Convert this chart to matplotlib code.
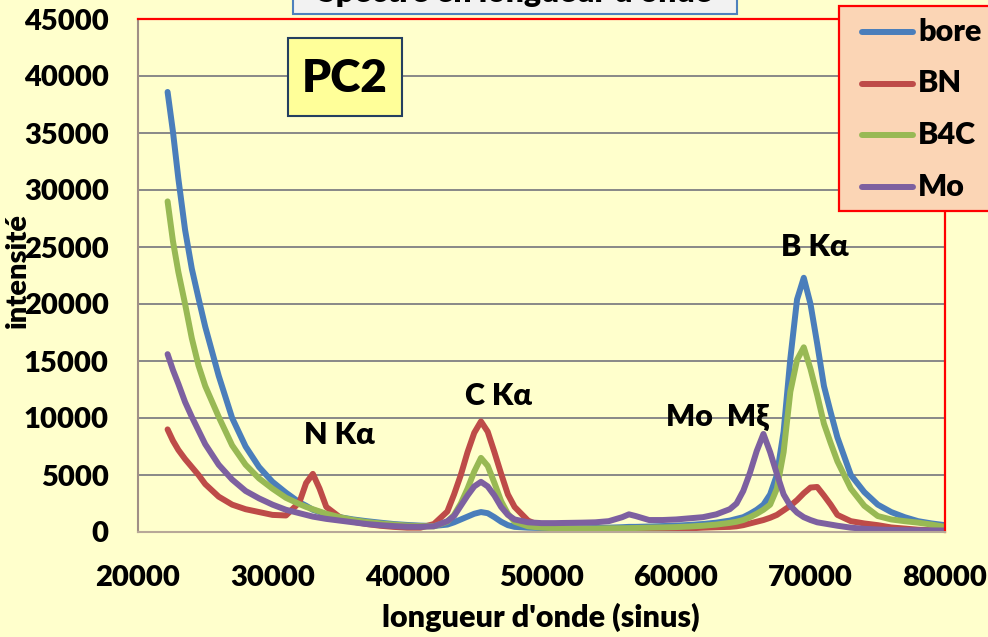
import matplotlib.pyplot as plt
from matplotlib.patches import Rectangle
from matplotlib.lines import Line2D

# longueur d'onde (sinus), grille commune aux quatre spectres
x_sinus = [22200, 22600, 23000, 23500, 24000, 24500, 25000, 26000, 27000, 28000,
           29000, 30000, 31000, 32000, 32500, 33000, 33500, 34000, 35000, 36000,
           37000, 38000, 39000, 40000, 41000, 42000, 43000, 43500, 44000, 44500,
           45000, 45500, 46000, 46500, 47000, 47500, 48000, 49000, 50000, 51000,
           52000, 53000, 54000, 55000, 56000, 56500, 57000, 58000, 59000, 60000,
           61000, 62000, 63000, 64000, 64500, 65000, 65500, 66000, 66500, 67000,
           67500, 68000, 68500, 69000, 69500, 70000, 70500, 71000, 71500, 72000,
           73000, 74000, 75000, 76000, 77000, 78000, 79000, 80000]

bore = [38600, 35100, 31000, 26500, 23100, 20500, 18000, 13700, 10000, 7500,
        5700, 4400, 3450, 2600, 2300, 1950, 1750, 1550, 1300, 1100,
        950, 820, 700, 620, 560, 530, 650, 850, 1100, 1350,
        1600, 1750, 1650, 1300, 900, 600, 450, 380, 350, 350,
        330, 330, 350, 380, 420, 450, 450, 480, 520, 560,
        620, 700, 820, 1000, 1150, 1300, 1600, 1950, 2400, 3300,
        5000, 8800, 15200, 20400, 22300, 20000, 16500, 12800, 10500, 8300,
        5000, 3500, 2400, 1750, 1300, 950, 750, 600]

BN = [9000, 8000, 7200, 6400, 5700, 5000, 4200, 3100, 2400, 2000,
      1750, 1500, 1450, 2600, 4300, 5100, 3800, 2200, 1300, 900,
      700, 550, 450, 380, 380, 700, 1800, 3300, 5000, 7000,
      8700, 9700, 8800, 7000, 5100, 3300, 2200, 1000, 500, 300,
      220, 200, 200, 200, 200, 200, 200, 220, 250, 280,
      320, 380, 420, 450, 500, 600, 750, 900, 1050, 1250,
      1500, 1900, 2300, 2800, 3400, 3900, 3950, 3200, 2400, 1500,
      950, 750, 600, 400, 300, 200, 150, 120]

B4C = [29000, 25500, 22800, 20000, 17000, 14600, 12800, 10100, 7600, 5900,
       4700, 3800, 3000, 2450, 2200, 2000, 1800, 1600, 1300, 1050,
       880, 750, 650, 560, 520, 500, 900, 1500, 2500, 3800,
       5300, 6500, 5800, 4300, 2700, 1600, 900, 500, 380, 330,
       300, 300, 300, 320, 330, 340, 350, 380, 400, 430,
       480, 550, 650, 800, 900, 1050, 1300, 1600, 1950, 2400,
       3800, 7000, 12300, 15100, 16200, 14300, 12000, 9500, 7800, 6200,
       3800, 2300, 1400, 1100, 950, 820, 650, 450]

Mo = [15600, 14200, 13000, 11400, 10100, 8900, 7700, 5900, 4600, 3600,
      2950, 2400, 1950, 1650, 1500, 1350, 1250, 1150, 1000, 850,
      700, 600, 520, 460, 450, 500, 950, 1400, 2300, 3200,
      4000, 4400, 4000, 3200, 2200, 1500, 1100, 850, 780, 780,
      800, 820, 850, 950, 1300, 1550, 1400, 1050, 1050, 1100,
      1200, 1300, 1550, 2000, 2500, 3600, 5200, 7100, 8600, 7000,
      5100, 3300, 2300, 1700, 1300, 1050, 850, 750, 650, 550,
      380, 280, 220, 180, 160, 150, 140, 130]

series = [("bore", bore, "#4a7ebb"),
          ("BN", BN, "#be4b48"),
          ("B4C", B4C, "#98b954"),
          ("Mo", Mo, "#7d60a0")]

y_ticks = [0, 5000, 10000, 15000, 20000, 25000, 30000, 35000, 40000, 45000]
x_ticks = [20000, 30000, 40000, 50000, 60000, 70000, 80000]

# pics annotés : texte, x, y
peaks = [("N Kα", 35000, 8500),
         ("C Kα", 46800, 11900),
         ("Mo  Mξ", 63100, 10100),
         ("B Kα", 70300, 25000)]

plt.rcParams['font.family'] = ['Lato', 'DejaVu Sans']

W, H = 988, 637
bg = "#ffffcc"
fig = plt.figure(figsize=(W / 100, H / 100), dpi=100, facecolor=bg)
ax = fig.add_axes([138 / W, 105 / H, 807 / W, 513 / H])
ax.set_facecolor(bg)

for name, vals, col in series:
    ax.plot(x_sinus, vals, color=col, lw=4.3, label=name,
            solid_capstyle="round", solid_joinstyle="round")

ax.set_xlim(20000, 80000)
ax.set_ylim(0, 45000)
ax.set_xticks(x_ticks)
ax.set_yticks(y_ticks)
ax.tick_params(length=0, labelsize=21)
ax.tick_params(axis="y", pad=21)
ax.tick_params(axis="x", pad=24)
for lab in ax.get_xticklabels() + ax.get_yticklabels():
    lab.set_fontweight("heavy")

ax.yaxis.grid(True, color="#888888", lw=1.4)
ax.set_axisbelow(True)
ax.spines["top"].set_color("#ff0000")
ax.spines["right"].set_color("#ff0000")
ax.spines["top"].set_linewidth(1.6)
ax.spines["right"].set_linewidth(1.6)
ax.spines["left"].set_color("#a08f86")
ax.spines["bottom"].set_color("#b8a898")
ax.spines["left"].set_linewidth(1.5)
ax.spines["bottom"].set_linewidth(1.5)

for txt, xx, yy in peaks:
    ax.text(xx, yy, txt, fontsize=22, fontweight="heavy", ha="center", va="center")

fig.text(541 / W, 1 - 617 / H, "longueur d'onde (sinus)", fontsize=22,
         fontweight="heavy", ha="center", va="center")
fig.text(18 / W, 1 - 270 / H, "intensité", fontsize=21, fontweight="heavy",
         rotation=90, ha="center", va="center")

# encadré "PC2"
fig.patches.append(Rectangle((288 / W, 1 - 116 / H), 114 / W, 78 / H,
                             transform=fig.transFigure, facecolor="#ffff99",
                             edgecolor="#243f60", lw=1.5, zorder=5))
fig.text(345 / W, 1 - 78 / H, "PC2", fontsize=33, fontweight="heavy",
         ha="center", va="center", zorder=6)

# titre (coupé par le bord haut)
fig.patches.append(Rectangle((293 / W, 1 - 14 / H), 444 / W, 40 / H,
                             transform=fig.transFigure, facecolor="#f2f2f2",
                             edgecolor="#4f81bd", lw=1.5, zorder=5))
fig.text(515 / W, 1 - 2 / H, "Spectre en longueur d'onde", fontsize=23,
         fontweight="heavy", ha="center", va="baseline", zorder=6)

# légende dessinée à la main, elle déborde à droite de la figure
fig.patches.append(Rectangle((839 / W, 1 - 211 / H), 200 / W, 205 / H,
                             transform=fig.transFigure, facecolor="#fbd5b5",
                             edgecolor="#ff0000", lw=1.6, zorder=5))
for i, (name, vals, col) in enumerate(series):
    yrow = 1 - (32 + 51.5 * i) / H
    fig.lines.append(Line2D([862 / W, 913 / W], [yrow, yrow],
                            transform=fig.transFigure, color=col, lw=4.3,
                            solid_capstyle="round", zorder=6))
    fig.text(918 / W, yrow, name, fontsize=22, fontweight="heavy",
             ha="left", va="center", zorder=6)

fig.savefig("out.png", dpi=100, facecolor=bg)
